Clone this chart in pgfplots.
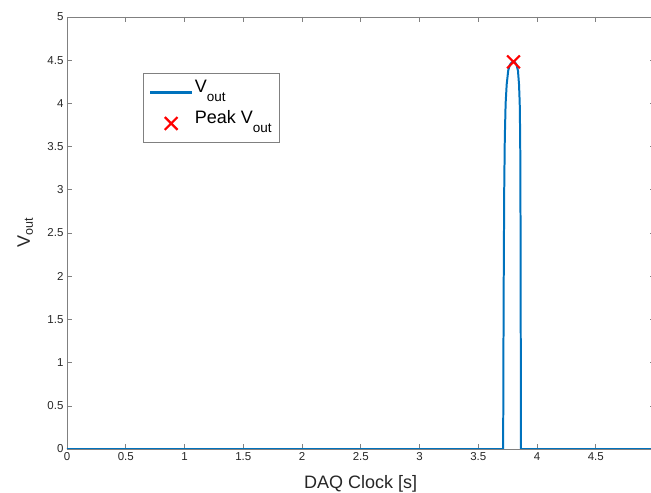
\documentclass[border=0pt]{standalone}
\usepackage{pgfplots}
\pgfplotsset{compat=1.18}
\usepackage{fontspec}
\setmainfont{Liberation Sans}
\definecolor{mblue}{rgb}{0,0.447,0.741}
\definecolor{axgray}{RGB}{128,128,128}
\definecolor{txt}{RGB}{38,38,38}
\newcommand{\lsub}[1]{\raisebox{-9bp}{\fontsize{13.5bp}{14bp}\selectfont #1}}
\newcommand{\ysub}[1]{\raisebox{-3bp}{\fontsize{12.5bp}{14bp}\selectfont #1}}
\pgfplotsset{
  longline legend/.style={legend image code/.code={\path[draw=mblue, line width=2.2pt] (0bp,0bp) -- (42bp,0bp);}},
  midmark legend/.style={legend image code/.code={\draw[red, line width=2.2pt] plot[mark=x, mark size=9bp] coordinates {(21bp,0bp)};}},
}
\begin{document}
\begin{tikzpicture}
\begin{axis}[
  name=ax, at={(0,0)}, anchor=south west,
  scale only axis, width=587.5bp, height=432bp,
  xmin=0, xmax=5, ymin=0, ymax=5,
  xtick={0,0.5,...,5}, ytick={0,0.5,...,5},
  xticklabels={0,0.5,1,1.5,2,2.5,3,3.5,4,4.5,5},
  yticklabels={0,0.5,1,1.5,2,2.5,3,3.5,4,4.5,5},
  tick align=inside, major tick length=5bp,
  axis line style={axgray, line width=0.6pt},
  every tick/.style={axgray, line width=0.6pt},
  tick label style={font=\fontsize{11.5bp}{13bp}\selectfont, text=txt},
  /pgf/number format/assume math mode=true,
  xlabel={DAQ Clock [s]}, ylabel={V\ysub{out}},
  label style={font=\fontsize{18bp}{20bp}\selectfont, text=txt},
  xlabel style={at={(axis description cs:0.5,0)}, anchor=base, yshift=-39bp},
  ylabel style={at={([xshift=-37bp]axis description cs:0,0.5)}, anchor=base, rotate=0},
  legend style={at={(rel axis cs:0.129,0.87)}, anchor=north west,
    draw=axgray, line width=0.6pt, font=\fontsize{18bp}{20bp}\selectfont, text=black,
    inner xsep=6bp, inner ysep=4bp, row sep=1bp, cells={anchor=west},
    nodes={inner sep=1.5bp, text height=14bp, text depth=13bp}},
  legend cell align=left,
]
\addplot[mblue, line width=2pt, longline legend] coordinates {
(0,0) (3.712,0) (3.714,1) (3.717,2) (3.721,3) (3.726,3.6) (3.733,4.0) (3.742,4.22) (3.755,4.38) (3.77,4.45) (3.79,4.48) (3.81,4.48) (3.825,4.45) (3.838,4.38) (3.847,4.22) (3.853,4.0) (3.857,3.6) (3.859,3) (3.861,2) (3.862,1) (3.863,0) (5,0)
};
\addlegendentry{V\lsub{out}}
\addplot[only marks, mark=x, mark size=9bp, red, line width=2.2pt, midmark legend] coordinates {(3.80,4.48)};
\addlegendentry{Peak V\lsub{out}}
\end{axis}
\pgfresetboundingbox
\path (-67bp,-44bp) rectangle (584bp,449bp);
\end{tikzpicture}
\end{document}
